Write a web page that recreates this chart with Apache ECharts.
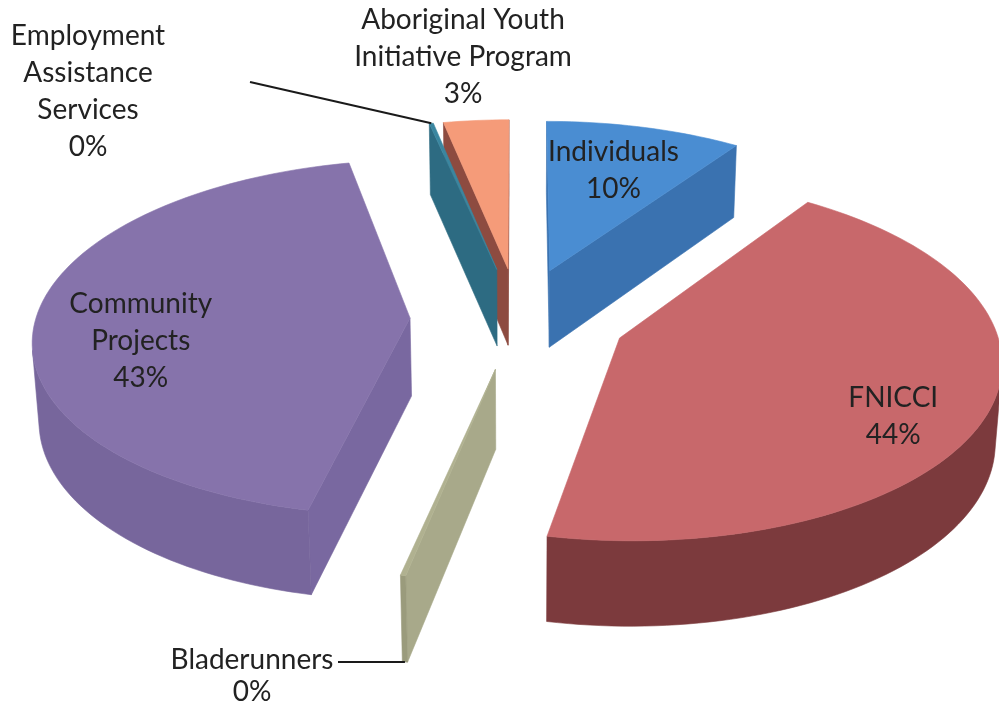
<!DOCTYPE html>
<html>
<head>
<meta charset="utf-8">
<script src="https://cdn.jsdelivr.net/npm/echarts@6/dist/echarts.min.js"></script>
<style>
  html, body { margin: 0; padding: 0; background: #ffffff; }
  #chart { width: 999px; height: 708px; }
</style>
</head>
<body>
<div id="chart"></div>
<script>
// Funding breakdown, drawn clockwise from twelve o'clock
const categories = [
  'Individuals',
  'FNICCI',
  'Bladerunners',
  'Community Projects',
  'Employment Assistance Services',
  'Aboriginal Youth Initiative Program'
];
const values = [9.6, 43.6, 0.2, 43.2, 0.2, 3.2];
const labelLines = [
  ['Individuals'],
  ['FNICCI'],
  ['Bladerunners'],
  ['Community', 'Projects'],
  ['Employment', 'Assistance', 'Services'],
  ['Aboriginal Youth', 'Initiative Program']
];

// Face colours per slice: lid, cut faces, outer rim
const topColors  = ['#4a8dd2', '#c8686b', '#b0b190', '#8673ab', '#3a86a0', '#f59b79'];
const cutColors  = ['#3a72b0', '#8a4043', '#a8a98a', '#7968a0', '#2d6b82', '#8d4b40'];
const wallColors = ['#3a6fa8', '#7c3a3d', '#9a9b7c', '#77669c', '#2a6378', '#c47a60'];

const FONT = 'Lato';
const FONT_SIZE = 28;

const rad = d => d * Math.PI / 180;
const total = values.reduce((a, b) => a + b, 0);
const slices = [];
let acc = 0;
values.forEach(v => {
  const s = acc / total * 360;
  acc += v;
  const e = acc / total * 360;
  slices.push({ s, e, mid: (s + e) / 2 });
});
const pctText = values.map(v => Math.round(v * 100 / total) + '%');

// Camera for the tilted, exploded disc
const VIEW = {
  tilt: rad(28), dist: 8, scale: 374, depth: 0.24, explode: 0.29,
  cxFrac: 0.519, cyFrac: 0.449
};
const camera = [0, VIEW.dist * Math.sin(VIEW.tilt), -VIEW.dist * Math.cos(VIEW.tilt)];

function projector(w, h) {
  const ca = Math.cos(VIEW.tilt), sa = Math.sin(VIEW.tilt);
  const cx = w * VIEW.cxFrac, cy = h * VIEW.cyFrac;
  return (x, y, z) => {
    const yp = y * ca + z * sa;
    const zp = VIEW.dist + z * ca - y * sa;
    const k = VIEW.scale * VIEW.dist / zp;
    return [cx + x * k, cy - yp * k];
  };
}
const offsetOf = i => {
  const m = rad(slices[i].mid);
  return [VIEW.explode * Math.sin(m), VIEW.explode * Math.cos(m)];
};

// Draw far slices first
const drawOrder = values.map((v, i) => i).sort((a, b) => offsetOf(b)[1] - offsetOf(a)[1]);

// Label placement: inside labels sit on the lid, outside ones hang off a leader line
const insideLabel = { 0: { r: 0.65, dy: -4 }, 1: { r: 0.75, dy: 24 }, 3: { r: 0.72, dy: 23 } };
const outsideLabel = {
  5: { at: 'top', x: 463, y: 57, from: null },
  4: { at: 'top', x: 88, y: 91, from: [250, 82] },
  2: { at: 'bottom', x: 252, y: 676, from: [338, 662] }
};

function renderItem(params, api) {
  const i = api.value(0);
  const rank = api.value(2);
  const sl = slices[i];
  const W = api.getWidth(), Hgt = api.getHeight();
  const P = projector(W, Hgt);
  const H = VIEW.depth;
  const [ox, oz] = offsetOf(i);
  const facing = (nx, nz, px, pz) => nx * (camera[0] - px) + nz * (camera[2] - pz) > 0;
  const steps = Math.max(2, Math.ceil((sl.e - sl.s) / 1.5));
  const arc = [];
  for (let j = 0; j <= steps; j++) arc.push(rad(sl.s + (sl.e - sl.s) * j / steps));
  const pt = (t, y, r) => P(ox + (r || 1) * Math.sin(t), y, oz + (r || 1) * Math.cos(t));
  const children = [];
  let z2 = rank * 10;
  const poly = (points, color) => children.push({
    type: 'polygon', z2: z2++, shape: { points },
    style: { fill: color, stroke: color, lineWidth: 0.6 }
  });

  const ts = arc[0], te = arc[arc.length - 1];
  if (facing(-Math.cos(ts), Math.sin(ts), ox, oz)) {
    poly([P(ox, 0, oz), pt(ts, 0), pt(ts, -H), P(ox, -H, oz)], cutColors[i]);
  }
  if (facing(Math.cos(te), -Math.sin(te), ox, oz)) {
    poly([P(ox, 0, oz), pt(te, 0), pt(te, -H), P(ox, -H, oz)], cutColors[i]);
  }
  let run = [];
  const flush = () => {
    if (run.length >= 2) {
      const top = run.map(t => pt(t, 0));
      const bot = run.slice().reverse().map(t => pt(t, -H));
      poly(top.concat(bot), wallColors[i]);
    }
    run = [];
  };
  for (let j = 0; j < arc.length - 1; j++) {
    const tm = (arc[j] + arc[j + 1]) / 2;
    const vis = facing(Math.sin(tm), Math.cos(tm), ox + Math.sin(tm), oz + Math.cos(tm));
    if (vis) { if (!run.length) run.push(arc[j]); run.push(arc[j + 1]); } else flush();
  }
  flush();
  poly([P(ox, 0, oz)].concat(arc.map(t => pt(t, 0))), topColors[i]);

  // Label
  const text = labelLines[i].concat([pctText[i]]).join('\n');
  const textStyle = {
    text, fill: '#222222', font: FONT_SIZE + 'px ' + FONT,
    align: 'center', verticalAlign: 'middle', lineHeight: i === 2 ? 32 : 37
  };
  const tm = rad(sl.mid);
  if (insideLabel[i]) {
    const L = insideLabel[i];
    const p = pt(tm, 0, L.r);
    children.push({ type: 'text', z2: 1000, style: Object.assign({ x: p[0], y: p[1] + L.dy }, textStyle) });
  } else if (outsideLabel[i]) {
    const L = outsideLabel[i];
    const a = L.at === 'top' ? pt(tm, 0) : pt(tm, -H);
    children.push({ type: 'text', z2: 1000, style: Object.assign({ x: L.x * W / 999, y: L.y * Hgt / 708 }, textStyle) });
    if (L.from) {
      children.push({
        type: 'polyline', z2: 999,
        shape: { points: [[L.from[0] * W / 999, L.from[1] * Hgt / 708], a] },
        style: { stroke: '#1a1a1a', lineWidth: 2, fill: null }
      });
    }
  }
  return { type: 'group', children };
}

const chart = echarts.init(document.getElementById('chart'), null, { renderer: 'canvas' });
chart.setOption({
  backgroundColor: '#ffffff',
  animation: false,
  series: [{
    type: 'custom',
    coordinateSystem: 'none',
    renderItem,
    data: drawOrder.map((i, rank) => ({ name: categories[i], value: [i, values[i], rank] }))
  }]
});
</script>
</body>
</html>
